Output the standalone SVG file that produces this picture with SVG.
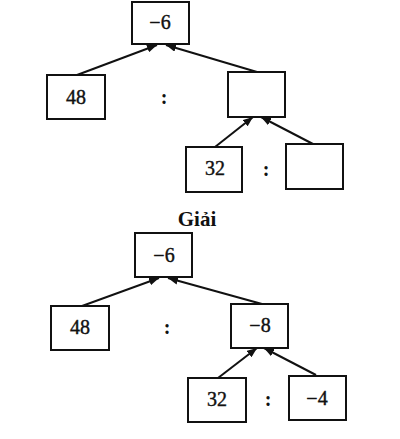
<svg xmlns="http://www.w3.org/2000/svg" width="400" height="439" viewBox="0 0 400 439">
<style>
.box{fill:none;stroke:#111;stroke-width:2}
.t{font-family:"Liberation Serif","DejaVu Serif",serif;font-size:20px;fill:#111;stroke:#111;stroke-width:0.4;text-anchor:middle}
.k{font-family:"Liberation Serif","DejaVu Serif",serif;font-size:20px;font-weight:bold;fill:#111;text-anchor:middle}
.c{stroke:#111;stroke-width:2;fill:none;marker-end:url(#ah)}
.h{font-family:"Liberation Serif","DejaVu Serif",serif;font-size:21px;font-weight:bold;fill:#111;text-anchor:middle}
</style>
<defs>
<marker id="ah" markerUnits="userSpaceOnUse" markerWidth="10" markerHeight="8" refX="10" refY="4" orient="auto">
<path d="M0,0 L10,4 L0,8 z" fill="#111"/>
</marker>
</defs>
<rect width="400" height="439" fill="#fff"/>
<g id="connectors">
<line class="c" x1="77" y1="75" x2="157" y2="45"/>
<line class="c" x1="257" y1="72" x2="166" y2="45"/>
<line class="c" x1="215" y1="147" x2="253" y2="117"/>
<line class="c" x1="313" y1="144" x2="261" y2="117"/>
<line class="c" x1="82" y1="306" x2="159" y2="278"/>
<line class="c" x1="262" y1="304" x2="168" y2="278"/>
<line class="c" x1="218" y1="378" x2="257" y2="348"/>
<line class="c" x1="316" y1="375" x2="264" y2="348"/>
</g>
<g id="q-root"><rect class="box" x="132" y="2" width="57" height="42"/><text class="t" x="160" y="29">−6</text></g>
<g id="q-48"><rect class="box" x="47" y="75" width="58" height="44"/><text class="t" x="76" y="104">48</text></g>
<g id="q-colon1"><text class="k" x="164" y="104">:</text></g>
<g id="q-mid"><rect class="box" x="228" y="72" width="57" height="45"/></g>
<g id="q-32"><rect class="box" x="186" y="147" width="56" height="45"/><text class="t" x="215" y="175">32</text></g>
<g id="q-colon2"><text class="k" x="266" y="176">:</text></g>
<g id="q-empty"><rect class="box" x="286" y="144" width="57" height="45"/></g>
<text class="h" x="197" y="226">Giải</text>
<g id="a-root"><rect class="box" x="135" y="233" width="57" height="44"/><text class="t" x="164" y="262">−6</text></g>
<g id="a-48"><rect class="box" x="51" y="306" width="58" height="44"/><text class="t" x="80" y="334">48</text></g>
<g id="a-colon1"><text class="k" x="167" y="334">:</text></g>
<g id="a-mid"><rect class="box" x="231" y="304" width="57" height="44"/><text class="t" x="260" y="332">−8</text></g>
<g id="a-32"><rect class="box" x="188" y="378" width="58" height="44"/><text class="t" x="217" y="406">32</text></g>
<g id="a-colon2"><text class="k" x="268" y="406">:</text></g>
<g id="a-m4"><rect class="box" x="289" y="376" width="57" height="44"/><text class="t" x="317" y="405">−4</text></g>
</svg>
